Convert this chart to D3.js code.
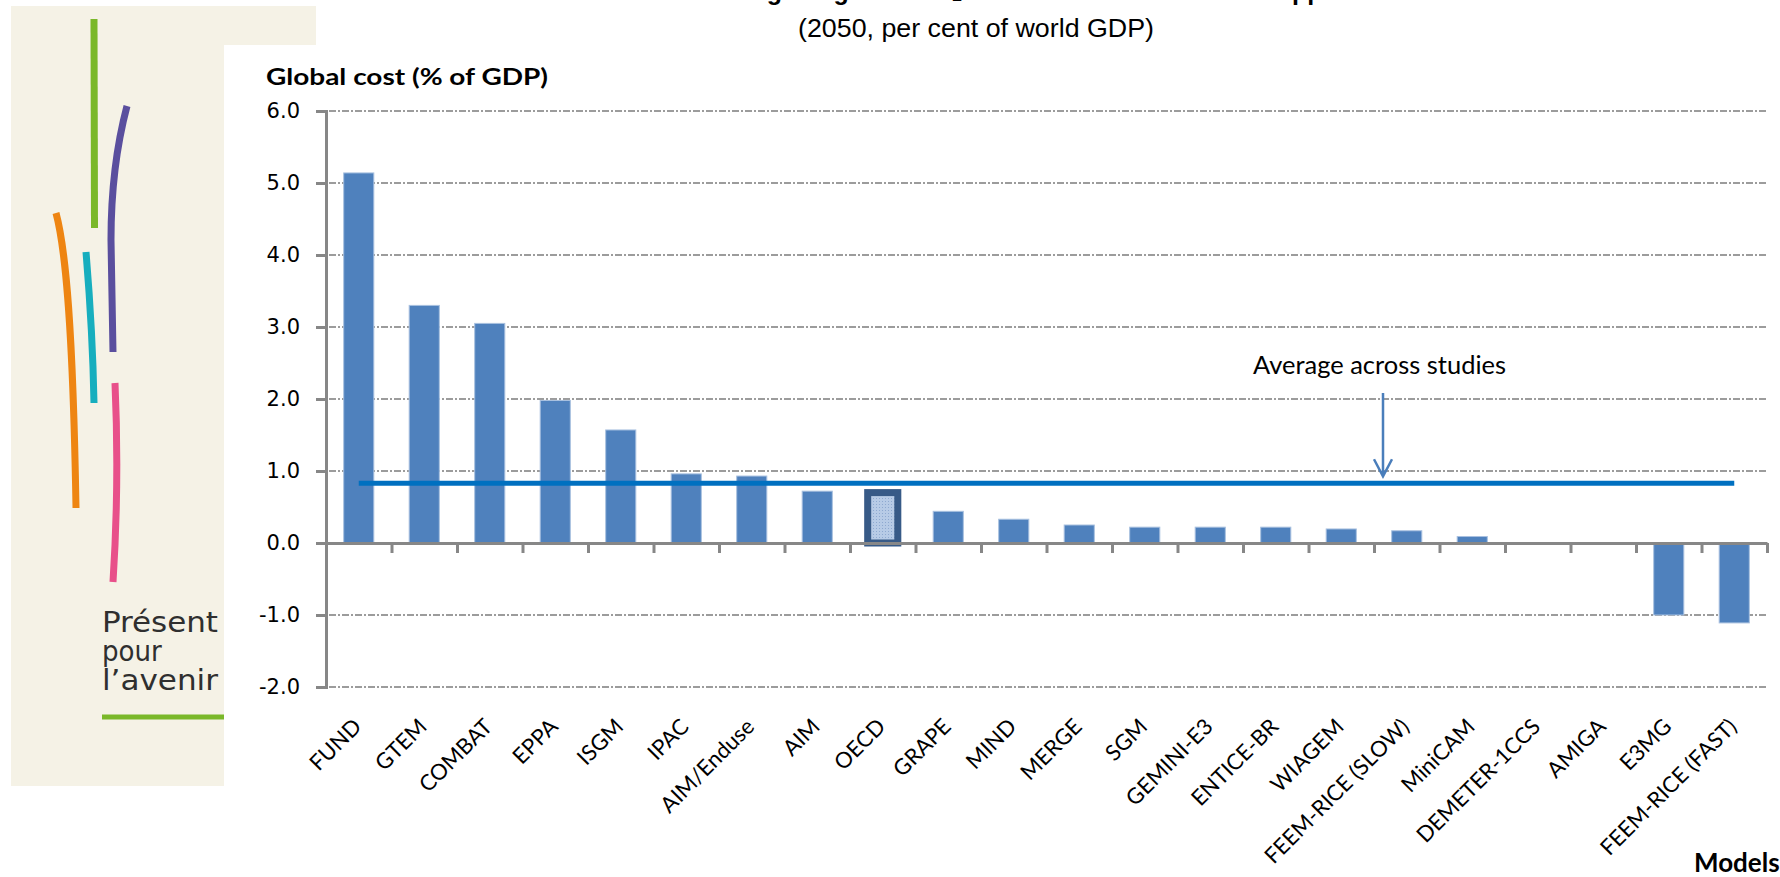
<!DOCTYPE html>
<html><head><meta charset="utf-8">
<script src="https://cdn.jsdelivr.net/npm/d3@7"></script>
<style>html,body{margin:0;padding:0;background:#fff;overflow:hidden} svg{display:block}</style>
</head><body>
<svg id="c" width="1780" height="877"></svg>
<script>
// ---------------- data ----------------
const categories = ["FUND","GTEM","COMBAT","EPPA","ISGM","IPAC","AIM/Enduse","AIM","OECD","GRAPE","MIND","MERGE","SGM","GEMINI-E3","ENTICE-BR","WIAGEM","FEEM-RICE (SLOW)","MiniCAM","DEMETER-1CCS","AMIGA","E3MG","FEEM-RICE (FAST)"];
const costs = [5.14,3.30,3.05,1.98,1.57,0.96,0.93,0.72,0.70,0.44,0.33,0.25,0.22,0.22,0.22,0.195,0.17,0.09,0,0,-1.00,-1.11];
const highlighted = ["OECD"];
const averageCost = [0.83];
const yTicks = [-2,-1,0,1,2,3,4,5,6];
const gridValues = [-2,-1,1,2,3,4,5,6];
const titleText = "Cost of reducing the global CO\u2082 emissions in 2050 across approaches";
const subtitleText = "(2050, per cent of world GDP)";
const yAxisTitle = "Global cost  (% of GDP)";
const xAxisTitle = "Models";
const annotationText = "Average across studies";
const logoLines = ["Présent","pour","l\u2019avenir"];

// ---------------- drawing ----------------
const svg = d3.select("#c");
const data = categories.map((c,i)=>({cat:c, v:costs[i]}));

// logo panel
svg.append("path")
  .attr("d","M11,6 H316 V45 H224 V786 H11 Z")
  .attr("fill","#F5F2E6");
const logo = svg.append("g").attr("fill","none").attr("stroke-width",7).attr("stroke-linecap","butt");
logo.append("path").attr("d","M94,19 L94.5,228").attr("stroke","#7AB829");
logo.append("path").attr("d","M127,106 C118,140 111,185 111,240 L113,352").attr("stroke","#5A4F9E");
logo.append("path").attr("d","M56,213 C66,250 73,330 76,508").attr("stroke","#EE8512");
logo.append("path").attr("d","M86,252 C90,300 93,350 94,403").attr("stroke","#17AEBE");
logo.append("path").attr("d","M115,383 C118,450 117,520 113,582").attr("stroke","#E8508A");
const logoLen = [116, null, 116];
logoLines.forEach((t,i)=>{
  const tx = svg.append("text").attr("x",102).attr("y",632+29*i)
    .attr("font-family","'DejaVu Sans Condensed','Liberation Sans Narrow',sans-serif")
    .attr("font-size",29).attr("fill","#2f2f2f")
    .text(t);
  if (logoLen[i]) tx.attr("textLength",logoLen[i]).attr("lengthAdjust","spacingAndGlyphs");
});
svg.append("line").attr("x1",102).attr("x2",224).attr("y1",717).attr("y2",717)
  .attr("stroke","#7AB829").attr("stroke-width",5);

// scales
const x = d3.scaleBand().domain(categories).range([326,1767]).paddingInner(0.54).paddingOuter(0.27);
const y = d3.scaleLinear().domain([-2,6]).range([687,111]);
const xb = d3.scaleLinear().domain([0,categories.length]).range([326,1767]);
const bw = x.bandwidth();

// gridlines
svg.append("g").selectAll("line").data(gridValues).join("line")
  .attr("x1",316).attr("x2",1767)
  .attr("y1",d=>y(d)).attr("y2",d=>y(d))
  .attr("stroke","#9c9c9c").attr("stroke-width",1.8)
  .attr("stroke-dasharray","7,2,2,2");

// bars
const defs = svg.append("defs");
const pat = defs.append("pattern").attr("id","dots").attr("width",3).attr("height",3).attr("patternUnits","userSpaceOnUse");
pat.append("rect").attr("width",3).attr("height",3).attr("fill","#B7CBE6");
pat.append("rect").attr("width",1).attr("height",1).attr("fill","#8EA9D0");

svg.append("g").selectAll("rect").data(data.filter(d=>d.v!==0)).join("rect")
  .attr("x",d=>x(d.cat)).attr("width",bw)
  .attr("y",d=>y(Math.max(0,d.v)))
  .attr("height",d=>Math.abs(y(d.v)-y(0)))
  .attr("fill",d=>highlighted.includes(d.cat)?"url(#dots)":"#4F81BD")
  .attr("stroke",d=>highlighted.includes(d.cat)?"#375A87":"#A9C1E0")
  .attr("stroke-width",d=>highlighted.includes(d.cat)?7:1);

// y axis
const yAxis = svg.append("g").attr("transform","translate(326,0)")
  .call(d3.axisLeft(y).tickValues(yTicks).tickFormat(d=>d.toFixed(1)).tickSize(10).tickPadding(16));
yAxis.selectAll("path,line").attr("stroke","#878787").attr("stroke-width",3);
yAxis.selectAll("text").attr("font-family","'DejaVu Sans',sans-serif").attr("font-size",21).attr("fill","#000");

// x axis (ticks between categories)
const xAxis = svg.append("g").attr("transform",`translate(0,${y(0)})`)
  .call(d3.axisBottom(xb).tickValues(d3.range(1,categories.length+1)).tickFormat("").tickSize(10).tickSizeOuter(0));
xAxis.selectAll("path,line").attr("stroke","#878787").attr("stroke-width",3);

// category labels at bottom
svg.append("g").selectAll("text").data(categories).join("text")
  .attr("transform",d=>`translate(${x(d)+bw/2+4},728) rotate(-45)`)
  .attr("text-anchor","end")
  .attr("font-family","Lato,'Open Sans',sans-serif").attr("font-size",22).attr("fill","#000")
  .text(d=>d);

// average line
svg.append("line")
  .attr("x1",x(categories[0])+bw/2).attr("x2",x(categories[categories.length-1])+bw/2)
  .attr("y1",y(averageCost[0])).attr("y2",y(averageCost[0]))
  .attr("stroke","#0070C0").attr("stroke-width",5);

// annotation arrow
const ax = 1383, ay = y(averageCost[0]) - 7;
svg.append("path").attr("d",`M${ax},393 L${ax},${ay} M${ax-9},${ay-17} L${ax},${ay} L${ax+9},${ay-17}`)
  .attr("fill","none").attr("stroke","#4A7EBB").attr("stroke-width",2.5);
svg.append("text").attr("x",1253).attr("y",374)
  .attr("font-family","Lato,'Open Sans',sans-serif").attr("font-size",25).attr("fill","#000")
  .attr("textLength",253).attr("lengthAdjust","spacingAndGlyphs")
  .text(annotationText);

// titles
svg.append("text").attr("x",1001).attr("y",0).attr("text-anchor","middle")
  .attr("font-family","'Liberation Sans',Arial,sans-serif").attr("font-weight","bold").attr("font-size",25)
  .text(titleText);
svg.append("text").attr("x",976).attr("y",37).attr("text-anchor","middle")
  .attr("font-family","'Liberation Sans',Arial,sans-serif").attr("font-size",25)
  .attr("textLength",356).attr("lengthAdjust","spacingAndGlyphs")
  .text(subtitleText);
svg.append("text").attr("x",266).attr("y",85)
  .attr("font-family","Lato,'Open Sans',sans-serif").attr("font-weight","bold").attr("font-size",23)
  .attr("textLength",282).attr("lengthAdjust","spacingAndGlyphs")
  .text(yAxisTitle);
svg.append("text").attr("x",1694).attr("y",872)
  .attr("font-family","Lato,'Open Sans',sans-serif").attr("font-weight","bold").attr("font-size",26)
  .text(xAxisTitle);
</script>
</body></html>
